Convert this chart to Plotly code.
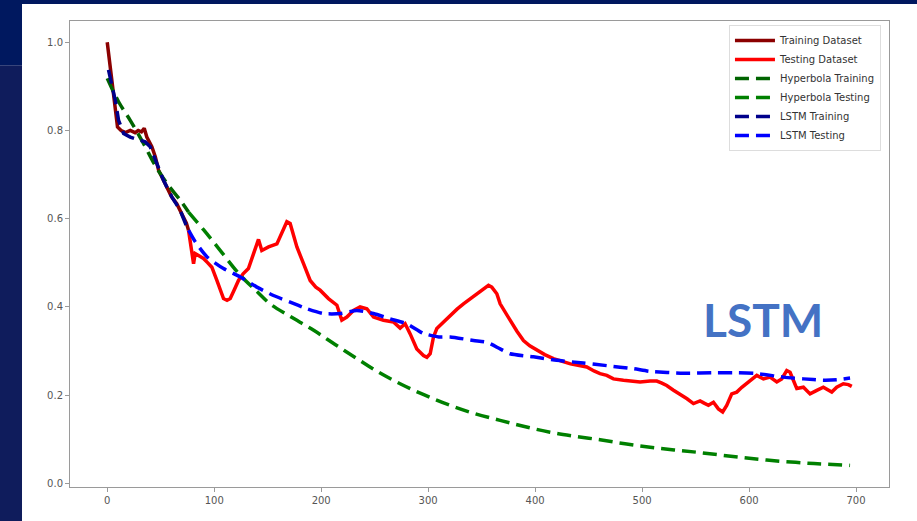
import plotly.graph_objects as go

# ---- observed series -------------------------------------------------------
train_x = [0, 3, 6, 9.6, 13, 17, 21.5, 26, 29, 32, 34.6, 37, 41.7, 45, 48, 52,
           55.8, 60, 65, 68, 71.3, 74, 76]
train_y = [1.0, 0.94, 0.88, 0.808, 0.80, 0.795, 0.80, 0.795, 0.80, 0.797, 0.805,
           0.785, 0.763, 0.74, 0.71, 0.69, 0.672, 0.65, 0.634, 0.62, 0.604, 0.59, 0.574]

test_x = [76, 78, 80.7, 82.2, 86, 90, 94, 97.8, 102.5, 106, 108.7, 112, 115, 119,
          122.7, 127, 132, 136.8, 141.4, 144.5, 150.8, 158.6, 163.2, 167.9, 171,
          174, 177.3, 183.5, 189.7, 195, 199, 206.8, 214.7, 219.3, 224, 230.2,
          236.4, 242.7, 248.9, 258.2, 267.6, 273.8, 278.5, 283.2, 289.4, 295.6,
          298.8, 301.9, 305, 308.1, 314, 320.6, 327, 333, 339, 345.5, 351, 356.4,
          359.5, 364.2, 367.3, 372, 376.6, 383, 389.1, 395, 401.6, 409, 417.1,
          425, 433, 440, 448.3, 455, 460.7, 467, 473.2, 482.6, 490, 498.1, 507.5,
          513.7, 518, 523, 529, 535.5, 542, 548, 554.2, 558, 562, 566.7, 571.3,
          575.3, 579.1, 583.8, 588.5, 593.2, 597, 601, 607.2, 613.4, 619.6, 625.9,
          630.5, 635.2, 638.3, 641.4, 644.6, 650.8, 657, 663.3, 669.4, 677.3,
          681.9, 688.1, 692.8, 696]
test_y = [0.574, 0.54, 0.498, 0.521, 0.515, 0.51, 0.50, 0.49, 0.46, 0.435, 0.419,
          0.415, 0.419, 0.44, 0.46, 0.475, 0.487, 0.521, 0.553, 0.528, 0.536, 0.543,
          0.566, 0.593, 0.589, 0.565, 0.536, 0.498, 0.46, 0.445, 0.438, 0.419,
          0.404, 0.37, 0.377, 0.392, 0.40, 0.396, 0.377, 0.37, 0.366, 0.352, 0.362,
          0.339, 0.305, 0.29, 0.286, 0.294, 0.332, 0.351, 0.365, 0.381, 0.395,
          0.407, 0.418, 0.43, 0.44, 0.449, 0.445, 0.43, 0.407, 0.39, 0.37, 0.345,
          0.324, 0.312, 0.302, 0.292, 0.283, 0.277, 0.271, 0.268, 0.264, 0.255,
          0.249, 0.245, 0.237, 0.234, 0.233, 0.23, 0.232, 0.232, 0.228, 0.222,
          0.212, 0.203, 0.192, 0.181, 0.187, 0.182, 0.177, 0.184, 0.169, 0.162,
          0.177, 0.203, 0.207, 0.218, 0.225, 0.234, 0.245, 0.237, 0.241, 0.23,
          0.237, 0.256, 0.252, 0.234, 0.215, 0.218, 0.203, 0.211, 0.218, 0.207,
          0.218, 0.226, 0.224, 0.22]

# ---- fitted hyperbola -------------------------------------------------------
hyp_train_x = [0, 10.6, 21.5, 34, 45, 55.8, 68.2, 76]
hyp_train_y = [0.918, 0.865, 0.823, 0.77, 0.72, 0.68, 0.642, 0.615]

hyp_test_x = [76, 90, 105, 124.3, 140, 152.3, 170, 193, 213, 233.4, 253, 273.8,
              297, 320.6, 344, 367.3, 390, 414, 437, 460.7, 484, 507.5, 530,
              554.2, 585, 616.5, 655, 694.4]
hyp_test_y = [0.615, 0.575, 0.53, 0.472, 0.435, 0.407, 0.38, 0.347, 0.315, 0.283,
              0.253, 0.226, 0.2, 0.177, 0.158, 0.143, 0.129, 0.116, 0.107, 0.099,
              0.09, 0.082, 0.076, 0.07, 0.061, 0.053, 0.046, 0.041]

# ---- LSTM predictions -------------------------------------------------------
lstm_train_x = [1.2, 4.4, 7.5, 10.6, 15.3, 21.5, 27.7, 35.5, 40.2, 46.4, 52.6,
                60.5, 68.2, 74.5, 76]
lstm_train_y = [0.937, 0.906, 0.868, 0.823, 0.793, 0.785, 0.781, 0.774, 0.763,
                0.725, 0.687, 0.649, 0.619, 0.581, 0.574]

lstm_test_x = [76, 82.2, 93.1, 108.7, 124.3, 139.9, 155.4, 171, 186.6, 202.1,
               217.8, 233.4, 248.9, 264.5, 280.1, 295.6, 310, 320.6, 342.4, 354.9,
               367.3, 376.6, 398.4, 420.3, 445.1, 467, 491.9, 507.5, 538.6, 569.8,
               588.5, 607.2, 632, 650.8, 669.4, 681.9, 694.4]
lstm_test_y = [0.574, 0.548, 0.514, 0.487, 0.468, 0.445, 0.426, 0.411, 0.396,
               0.385, 0.385, 0.392, 0.385, 0.373, 0.362, 0.34, 0.332, 0.332, 0.324,
               0.32, 0.305, 0.294, 0.287, 0.279, 0.273, 0.267, 0.26, 0.254, 0.25,
               0.251, 0.251, 0.249, 0.241, 0.237, 0.234, 0.235, 0.239]

x_ticks = [0, 100, 200, 300, 400, 500, 600, 700]
y_ticks = [0.0, 0.2, 0.4, 0.6, 0.8, 1.0]

DASH = "14px,7px"
LW = 3.5

fig = go.Figure()
fig.add_trace(go.Scatter(x=train_x, y=train_y, mode="lines", name="Training Dataset",
                         line=dict(color="#8b0000", width=LW)))
fig.add_trace(go.Scatter(x=test_x, y=test_y, mode="lines", name="Testing Dataset",
                         line=dict(color="#ff0000", width=LW)))
fig.add_trace(go.Scatter(x=hyp_train_x, y=hyp_train_y, mode="lines", name="Hyperbola Training",
                         line=dict(color="#006400", width=LW, dash=DASH, shape="spline")))
fig.add_trace(go.Scatter(x=hyp_test_x, y=hyp_test_y, mode="lines", name="Hyperbola Testing",
                         line=dict(color="#008000", width=LW, dash=DASH, shape="spline")))
fig.add_trace(go.Scatter(x=lstm_train_x, y=lstm_train_y, mode="lines", name="LSTM Training",
                         line=dict(color="#00008b", width=LW, dash=DASH)))
fig.add_trace(go.Scatter(x=lstm_test_x, y=lstm_test_y, mode="lines", name="LSTM Testing",
                         line=dict(color="#0000ff", width=LW, dash=DASH, shape="spline",
                                   smoothing=0.6)))

axis_font = dict(family="DejaVu Sans", size=10, color="#555555")
common_axis = dict(showline=True, mirror=True, linecolor="#9a9a9a", linewidth=1,
                   ticks="outside", ticklen=4, tickcolor="#9a9a9a", showgrid=False,
                   zeroline=False, tickfont=axis_font)
fig.update_xaxes(range=[-34.8, 730.8], tickvals=x_ticks, **common_axis)
fig.update_yaxes(range=[-0.008, 1.048], tickvals=y_ticks, tickformat=".1f", **common_axis)

# slide backdrop around the chart image
shapes = [
    dict(type="rect", xref="paper", yref="paper", x0=-0.0855, x1=-0.0586,
         y0=-0.073, y1=0.905, fillcolor="#0f1c5c", line_width=0, layer="above"),
    dict(type="rect", xref="paper", yref="paper", x0=-0.0855, x1=-0.0586,
         y0=0.905, y1=1.0451, fillcolor="#00185f", line_width=0, layer="above"),
    dict(type="rect", xref="paper", yref="paper", x0=-0.0855, x1=1.0342,
         y0=1.0365, y1=1.0451, fillcolor="#00185f", line_width=0, layer="above"),
]

fig.update_layout(
    width=917, height=521, autosize=False,
    margin=dict(l=70, r=28, t=21, b=34),
    paper_bgcolor="white", plot_bgcolor="white",
    shapes=shapes,
    showlegend=True,
    legend=dict(x=0.8046, y=0.9914, xanchor="left", yanchor="top", itemwidth=40,
                bgcolor="rgba(255,255,255,0.9)", bordercolor="#dddddd", borderwidth=1,
                font=dict(family="DejaVu Sans", size=10, color="#333333")),
    annotations=[dict(x=613, y=0.372, xref="x", yref="y", text="LSTM", showarrow=False,
                      xanchor="center", yanchor="middle",
                      font=dict(family="Lato", size=46, color="#4472C4", weight="bold"))],
)

fig.write_html("out.html")
